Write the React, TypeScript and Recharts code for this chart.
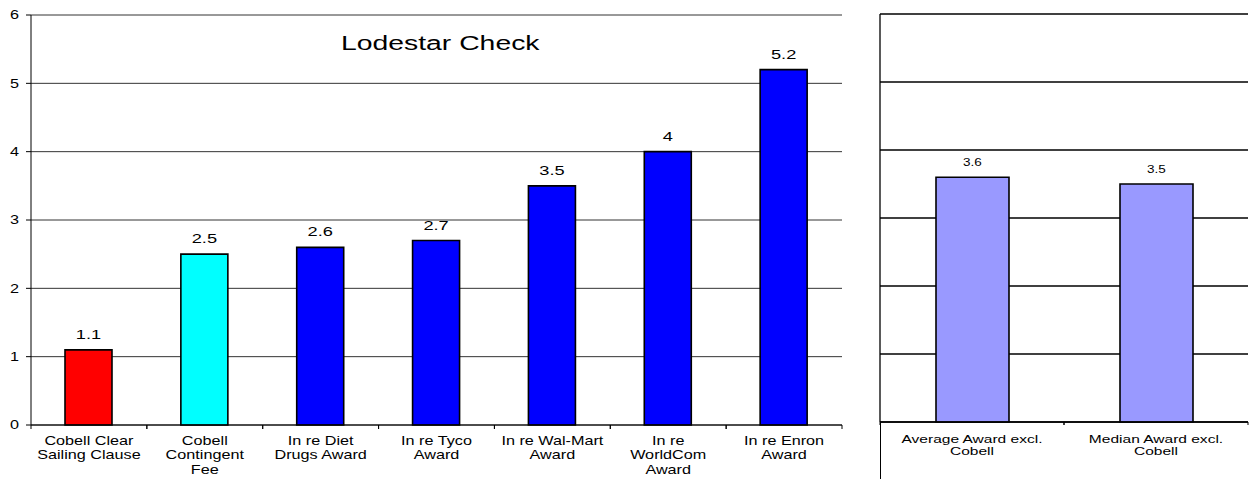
import React from 'react';
import { BarChart, Bar, XAxis, YAxis, CartesianGrid, Cell, LabelList } from 'recharts';

const leftCategories = [
  'Cobell Clear\nSailing Clause',
  'Cobell\nContingent\nFee',
  'In re Diet\nDrugs Award',
  'In re Tyco\nAward',
  'In re Wal-Mart\nAward',
  'In re\nWorldCom\nAward',
  'In re Enron\nAward',
];
const leftValues = [1.1, 2.5, 2.6, 2.7, 3.5, 4, 5.2];
const leftColors = ['#FF0000', '#00FFFF', '#0000FF', '#0000FF', '#0000FF', '#0000FF', '#0000FF'];

const rightCategories = ['Average Award excl.\nCobell', 'Median Award excl.\nCobell'];
const rightValues = [3.6, 3.5];

const yTicks = [0, 1, 2, 3, 4, 5, 6];

const leftData = leftCategories.map((name, i) => ({ name, value: leftValues[i] }));
const rightData = rightCategories.map((name, i) => ({ name, value: rightValues[i] }));

const FONT = '"Liberation Sans", Arial, sans-serif';
// the source image is stretched sideways, so text is widened to match
const SX = 1.35;

const makeTick = (band: number, fontSize: number, lineH: number, firstDy: number, tickLen: number) =>
  ({ x, y, payload }: any) => {
    const lines = String(payload.value).split('\n');
    return (
      <g>
        <line x1={x - band / 2} x2={x - band / 2} y1={y} y2={y + tickLen} stroke="#000" />
        <line x1={x + band / 2} x2={x + band / 2} y1={y} y2={y + tickLen} stroke="#000" />
        <text
          transform={`translate(${x},${y + firstDy}) scale(${SX},1)`}
          textAnchor="middle"
          fontSize={fontSize}
          fill="#000"
          fontFamily={FONT}
        >
          {lines.map((l, i) => (
            <tspan key={i} x={0} y={i * lineH}>{l}</tspan>
          ))}
        </text>
      </g>
    );
  };

const YTick = ({ x, y, payload }: any) => (
  <text
    transform={`translate(${x},${y}) scale(${SX},1)`}
    textAnchor="end"
    dy="0.36em"
    fontSize={12}
    fill="#000"
    fontFamily={FONT}
  >
    {payload.value}
  </text>
);

const makeValueLabel = (fontSize: number) => (props: any) => {
  const { x, y, width, value } = props;
  return (
    <text
      transform={`translate(${x + width / 2},${y - 11}) scale(${SX},1)`}
      textAnchor="middle"
      fontSize={fontSize}
      fill="#000"
      fontFamily={FONT}
    >
      {value}
    </text>
  );
};

const App: React.FC = () => {
  const leftPlotW = 811;
  const rightPlotW = 368;
  return (
    <div style={{ position: 'absolute', left: 0, top: 0, width: 1251, height: 479, background: '#fff', fontFamily: FONT }}>
      <div style={{ position: 'absolute', left: 0, top: 0 }}>
        <BarChart width={860} height={479} data={leftData} margin={{ top: 15, right: 18, left: 0, bottom: 0 }} barSize={47}>
          <CartesianGrid horizontal vertical={false} stroke="#333" strokeWidth={1} />
          <YAxis
            domain={[0, 6]}
            ticks={yTicks}
            width={31}
            axisLine={{ stroke: '#000' }}
            tickLine={{ stroke: '#000' }}
            tickSize={5}
            tickMargin={7}
            tick={<YTick />}
          />
          <XAxis
            dataKey="name"
            height={54}
            interval={0}
            axisLine={{ stroke: '#000' }}
            tickLine={false}
            tickSize={0}
            tickMargin={0}
            tick={makeTick(leftPlotW / leftData.length, 12, 14.5, 20, 4)}
          />
          <Bar dataKey="value" stroke="#000" strokeWidth={1.6} isAnimationActive={false}>
            {leftData.map((d, i) => (
              <Cell key={i} fill={leftColors[i]} />
            ))}
            <LabelList dataKey="value" content={makeValueLabel(13.5)} />
          </Bar>
        </BarChart>
        <svg style={{ position: 'absolute', left: 0, top: 0 }} width={860} height={80}>
          <text transform={`translate(341,50) scale(${SX},1)`} fontSize={21} fill="#000" fontFamily={FONT}>
            Lodestar Check
          </text>
        </svg>
      </div>
      <div style={{ position: 'absolute', left: 860, top: 0 }}>
        <BarChart width={391} height={479} data={rightData} margin={{ top: 14, right: 3, left: 0, bottom: 0 }} barSize={73}>
          <CartesianGrid horizontal vertical={false} stroke="#000" strokeWidth={1.3} />
          <YAxis
            domain={[0, 6]}
            ticks={yTicks}
            width={20}
            axisLine={{ stroke: '#000', strokeWidth: 1.3 }}
            tickLine={false}
            tick={() => <g />}
          />
          <XAxis
            dataKey="name"
            height={57}
            interval={0}
            axisLine={{ stroke: '#000', strokeWidth: 1.3 }}
            tickLine={false}
            tickSize={0}
            tickMargin={0}
            tick={makeTick(rightPlotW / rightData.length, 11.5, 12.5, 21, 3)}
          />
          <Bar dataKey="value" fill="#9999FF" stroke="#000" strokeWidth={1.6} isAnimationActive={false}>
            <LabelList dataKey="value" content={makeValueLabel(10)} />
          </Bar>
        </BarChart>
        <div style={{ position: 'absolute', left: 20, top: 422, width: 0, height: 57, borderLeft: '1.3px solid #000' }} />
      </div>
    </div>
  );
};

export default App;
